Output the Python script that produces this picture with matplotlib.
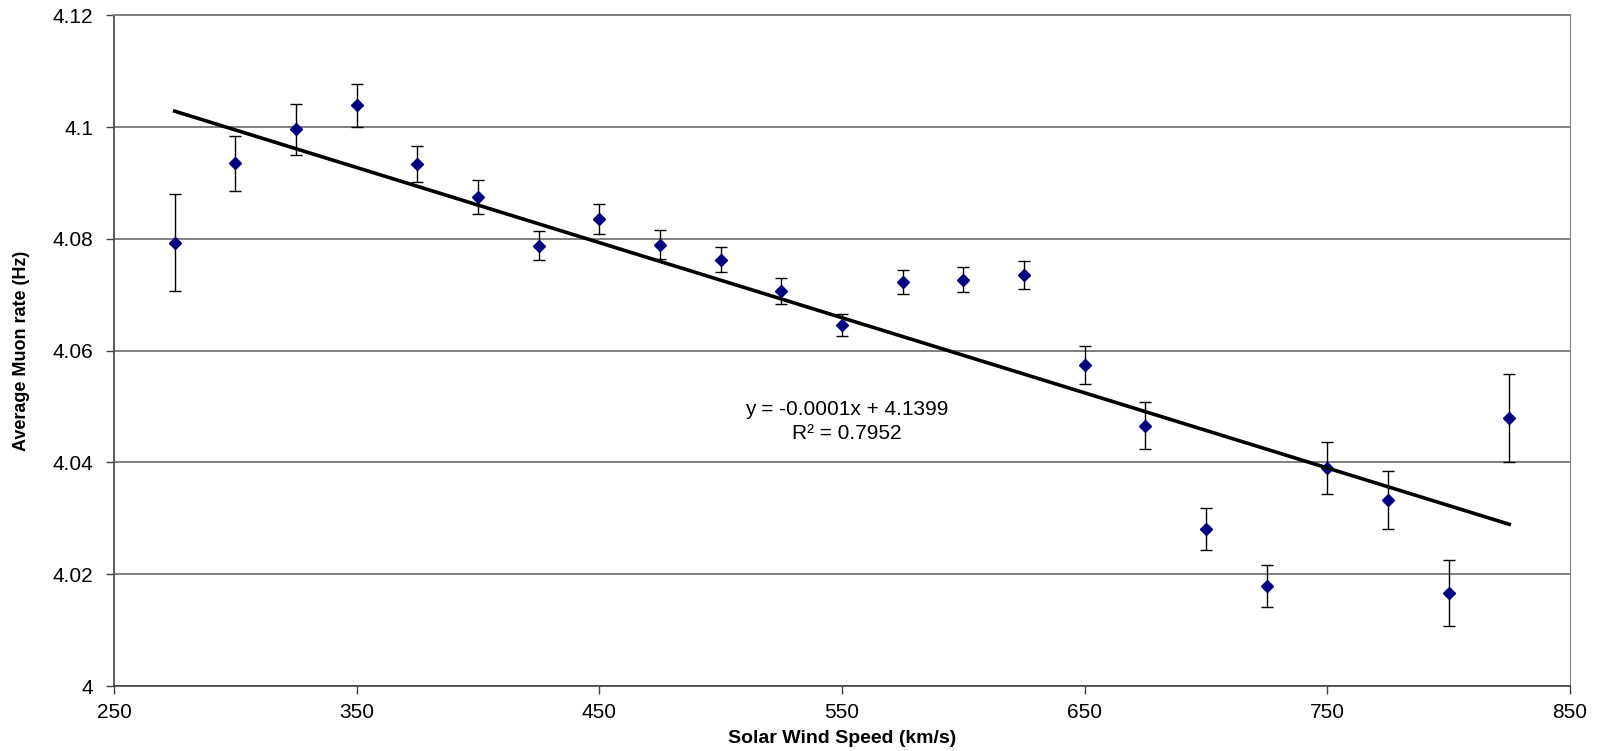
import numpy as np
import matplotlib
matplotlib.use("Agg")
from matplotlib import pyplot as plt
from matplotlib.ticker import FuncFormatter, MultipleLocator

plt.rcParams['font.family'] = ['Liberation Sans', 'DejaVu Sans']

# solar wind speed bins (km/s)
speed = [275, 300, 325, 350, 375, 400, 425, 450, 475, 500, 525, 550,
         575, 600, 625, 650, 675, 700, 725, 750, 775, 800, 825]
# average muon rate (Hz)
rate = [4.0793, 4.0935, 4.0996, 4.1039, 4.0934, 4.0875, 4.0788, 4.0835,
        4.0790, 4.0763, 4.0707, 4.0646, 4.0723, 4.0727, 4.0736, 4.0574,
        4.0466, 4.0281, 4.0179, 4.0390, 4.0333, 4.0167, 4.0480]
# error bar half-widths
err = [0.0087, 0.0049, 0.0045, 0.0039, 0.0032, 0.0030, 0.0026, 0.0027,
       0.0026, 0.0022, 0.0023, 0.0020, 0.0022, 0.0022, 0.0025, 0.0034,
       0.0042, 0.0038, 0.0038, 0.0047, 0.0052, 0.0059, 0.0079]

x_ticks = [250, 350, 450, 550, 650, 750, 850]
eq_text = "y = -0.0001x + 4.1399\nR\u00b2 = 0.7952"

fig = plt.figure(figsize=(16.13, 7.51), dpi=100)
ax = fig.add_axes([0.0707, 0.0865, 0.9026, 0.893])

# horizontal gridlines
ax.yaxis.grid(True, color='#808080', linewidth=1.4)
ax.set_axisbelow(True)

ax.errorbar(speed, rate, yerr=err, fmt='none', ecolor='black',
            elinewidth=1, capsize=4.5, capthick=1, zorder=3)
ax.plot(speed, rate, linestyle='none', marker='D', markersize=6.5,
        color='#000080', zorder=4)

# linear trend line
coef = np.polyfit(speed, rate, 1)
xs = np.array([speed[0], speed[-1]])
ax.plot(xs, np.polyval(coef, xs), color='black', linewidth=2.6, zorder=5)

ax.text(552, 4.0474, eq_text, ha='center', va='center', fontsize=15,
        linespacing=1.35)

ax.set_xlim(250, 850)
ax.set_ylim(4.0, 4.12)
ax.set_xticks(x_ticks)
ax.yaxis.set_major_locator(MultipleLocator(0.02))
ax.yaxis.set_major_formatter(FuncFormatter(lambda v, p: '%g' % round(v, 4)))

ax.tick_params(axis='both', direction='out', length=6, width=1,
               labelsize=15, color='#404040')
ax.tick_params(axis='x', pad=6)
ax.tick_params(axis='y', pad=9)

for side in ['left', 'bottom']:
    ax.spines[side].set_color('#404040')
    ax.spines[side].set_linewidth(1.2)
ax.spines['right'].set_color('#808080')
ax.spines['top'].set_color('#808080')
ax.spines['top'].set_linewidth(1.4)

ax.set_xlabel("Solar Wind Speed (km/s)", fontsize=14, fontweight='bold',
              labelpad=6)
ax.set_ylabel("Average Muon rate (Hz)", fontsize=13, fontweight='bold',
              labelpad=16, family=['Liberation Sans Narrow', 'Liberation Sans'])

fig.savefig("out.png", dpi=100)
